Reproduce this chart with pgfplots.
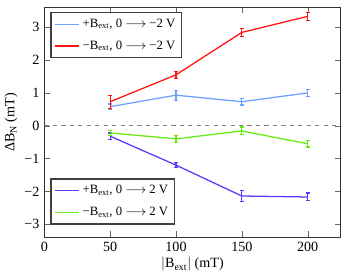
\documentclass[border=0pt]{standalone}
\usepackage{fontspec}
\setmainfont{Liberation Serif}
\usepackage{pgfplots}
\pgfplotsset{compat=1.18}
\definecolor{cred}{RGB}{255,20,20}
\definecolor{clblue}{RGB}{110,160,255}
\definecolor{cpurple}{RGB}{85,60,255}
\definecolor{cgreen}{RGB}{100,235,20}
\pgfplotsset{
  common/.style={
    scale only axis, width=210pt, height=163pt,
    xmin=0, xmax=225, ymin=-3.4, ymax=3.6,
    font=\fontsize{10}{12}\selectfont,
    /pgf/number format/assume math mode=true,
    xtick={0,50,100,150,200},
    ytick={-3,-2,-1,0,1,2,3},
    yticklabels={−3,−2,−1,0,1,2,3},
    tick align=inside,
    axis line style={black!80, line width=0.6pt},
    major tick style={black!60},
    legend cell align=left,
    legend image post style={line width=1pt},
    legend style={draw=black!75, line width=0.9pt, font=\fontsize{9}{10}\selectfont, inner sep=2.5pt,
      row sep=4pt},
  },
  eb/.style={line width=0.9pt, mark=none, error bars/.cd, y dir=both, y explicit,
    error bar style={line width=0.8pt}, error mark options={rotate=90, mark size=1.5pt, line width=0.8pt}},
}
\begin{document}
\begin{tikzpicture}
\begin{axis}[common,
  xlabel={$|$B$_{\mathrm{ext}}|$ (mT)},
  ylabel={ΔB$_{\mathrm{N}}$ (mT)},
  xlabel style={yshift=3pt},
  ylabel style={yshift=-2pt},
  legend style={at={(0.02,0.98)}, anchor=north west},
]
\addplot[gray, dashed, line width=0.5pt, forget plot] coordinates {(0,0) (225,0)};
\addplot[clblue, eb] coordinates {
 (50,0.58) +- (0,0.08)
 (100,0.93) +- (0,0.15)
 (150,0.73) +- (0,0.10)
 (200,1.00) +- (0,0.11)
};
\addlegendentry{+B$_{\mathrm{ext}}$, 0 $\longrightarrow$ −2 V}
\addplot[cred, eb] coordinates {
 (50,0.73) +- (0,0.20)
 (100,1.55) +- (0,0.10)
 (150,2.84) +- (0,0.12)
 (200,3.33) +- (0,0.12)
};
\addlegendentry{−B$_{\mathrm{ext}}$, 0 $\longrightarrow$ −2 V}
\end{axis}
\begin{axis}[common, hide axis,
  legend style={at={(0.02,0.055)}, anchor=south west},
]
\addplot[cpurple, eb] coordinates {
 (50,-0.32) +- (0,0.10)
 (100,-1.20) +- (0,0.08)
 (150,-2.14) +- (0,0.18)
 (200,-2.17) +- (0,0.12)
};
\addlegendentry{+B$_{\mathrm{ext}}$, 0 $\longrightarrow$ 2 V}
\addplot[cgreen, eb] coordinates {
 (50,-0.22) +- (0,0.08)
 (100,-0.40) +- (0,0.11)
 (150,-0.16) +- (0,0.12)
 (200,-0.55) +- (0,0.10)
};
\addlegendentry{−B$_{\mathrm{ext}}$, 0 $\longrightarrow$ 2 V}
\end{axis}
\path ([yshift=5pt]current bounding box.north);
\end{tikzpicture}
\end{document}
